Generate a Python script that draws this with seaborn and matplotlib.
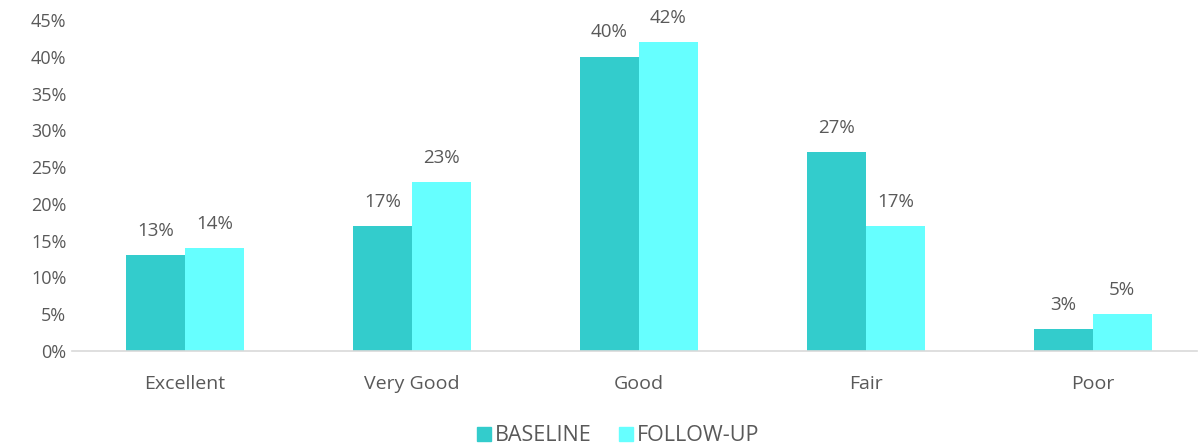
import matplotlib
matplotlib.use("Agg")
import matplotlib.pyplot as plt
import seaborn as sns
import pandas as pd
from matplotlib.lines import Line2D

categories = ["Excellent", "Very Good", "Good", "Fair", "Poor"]
baseline = [13, 17, 40, 27, 3]
follow_up = [14, 23, 42, 17, 5]
series = ["BASELINE", "FOLLOW-UP"]
colors = ["#33CCCC", "#66FFFF"]

df = pd.DataFrame({
    "category": categories * 2,
    "value": baseline + follow_up,
    "series": [series[0]] * len(categories) + [series[1]] * len(categories),
})

sns.set_theme(style="white")
plt.rcParams['font.family'] = ['Open Sans', 'DejaVu Sans']
text_color = "#595959"

fig = plt.figure(figsize=(11.99, 4.47), dpi=100)
ax = fig.add_axes([0.06, 0.2148, 0.938, 0.7405])

sns.barplot(data=df, x="category", y="value", hue="series", palette=colors,
            width=0.52, saturation=1, ax=ax, legend=False, linewidth=0)

for cont in ax.containers:
    ax.bar_label(cont, labels=[f"{int(round(v))}%" for v in cont.datavalues],
                 padding=11, fontsize=13.5, color=text_color)

ax.set_ylim(0, 45)
ax.set_yticks(range(0, 46, 5))
ax.set_yticklabels([f"{v}%" for v in range(0, 46, 5)], fontsize=13, color=text_color)
ax.tick_params(axis="x", labelsize=14, labelcolor=text_color, length=0, pad=17)
ax.tick_params(axis="y", length=0, pad=4)
ax.set_xlabel("")
ax.set_ylabel("")
for s in ["top", "right", "left"]:
    ax.spines[s].set_visible(False)
ax.spines["bottom"].set_color("#d9d9d9")
ax.spines["bottom"].set_linewidth(1.2)
ax.set_xlim(-0.498, 4.458)

handles = [Line2D([0], [0], marker="s", linestyle="", markersize=10,
                  markerfacecolor=c, markeredgecolor=c) for c in colors]
fig.legend(handles, series, loc="center", bbox_to_anchor=(0.515, 0.025), ncol=2,
           frameon=False, fontsize=15.5, labelcolor=text_color,
           handletextpad=0.1, columnspacing=1.2, handlelength=0.8)

fig.savefig("out.png", dpi=100)
